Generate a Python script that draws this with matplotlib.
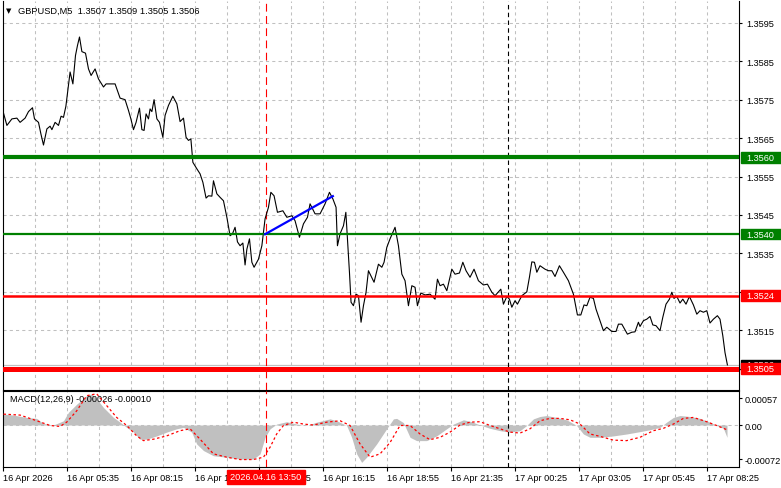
import matplotlib
matplotlib.use('Agg')
import matplotlib.pyplot as plt
from matplotlib.patches import Rectangle
from matplotlib.transforms import blended_transform_factory

plt.rcParams['font.family'] = ['Liberation Sans', 'DejaVu Sans']
plt.rcParams['font.size'] = 6.6

# GBPUSD M5 closes (x = bar number from 16 Apr 02:55)
price_bar = [0.0, 1.9, 4.4, 6.9, 8.5, 11.0, 12.7, 14.7, 15.7, 17.7, 18.9, 20.2, 21.9, 23.5, 24.4, 26.0,
             27.7, 29.0, 30.2, 31.4, 32.7, 33.5, 34.9, 36.2, 37.2, 38.2, 39.4, 41.2, 42.7, 44.0, 46.0,
             47.7, 50.2, 51.5, 56.0, 58.5, 61.0, 62.7, 63.9, 65.2, 66.5, 68.2, 69.4, 70.5, 71.5, 72.7,
             73.5, 74.4, 75.5, 76.9, 78.2, 79.9, 81.0, 82.7, 84.9, 86.9, 88.5, 90.2, 91.5, 92.7, 93.9,
             94.9, 96.9, 98.5, 99.9, 101.5, 102.7, 104.4, 105.2, 106.9, 108.5, 110.2, 111.9, 113.5,
             114.7, 116.0, 117.2, 118.5, 119.9, 121.0, 121.9, 123.2, 124.4, 125.5, 127.7, 129.4, 131.0,
             132.7, 133.9, 135.5, 137.2, 139.9, 141.9, 144.4, 146.0, 148.2, 150.2, 152.2, 153.5, 156.0,
             158.5, 161.0, 163.2, 164.9, 166.5, 167.2, 168.5, 170.2, 171.4, 172.2, 173.2, 174.0, 175.2,
             176.5, 177.7, 179.0, 180.2, 181.5, 182.7, 183.9, 185.5, 187.7, 189.4, 190.5, 191.9, 193.5,
             196.0, 197.7, 199.4, 201.0, 202.7, 204.4, 206.0, 207.2, 208.9, 211.0, 213.5, 216.0, 217.2,
             218.5, 220.2, 221.9, 224.4, 226.0, 228.2, 229.9, 231.5, 233.5, 235.5, 237.7, 240.2, 242.2,
             244.4, 246.0, 248.9, 250.2, 251.9, 253.2, 254.4, 256.0, 257.2, 259.4, 261.9, 263.2, 264.4,
             265.7, 266.9, 268.5, 271.0, 272.7, 274.4, 276.0, 278.2, 280.2, 282.7, 285.2, 287.2, 288.9,
             290.5, 291.9, 293.5, 295.2, 296.5, 298.2, 300.2, 301.9, 304.4, 306.5, 307.7, 309.4, 311.0,
             312.2, 314.4, 316.0, 317.7, 318.5, 320.2, 321.9, 323.5, 324.9, 326.5, 328.5, 329.9, 331.5,
             333.2, 334.4, 335.5, 336.9, 338.5, 339.9, 341.5, 343.2, 345.2, 346.9, 348.5, 350.2, 351.9,
             353.5, 355.2, 357.2, 358.5, 359.9, 361.0, 362.2]
price = [1.35719, 1.35683, 1.35700, 1.35702, 1.35691, 1.35702, 1.35719, 1.35729, 1.35700, 1.35691,
         1.35661, 1.35632, 1.35674, 1.35681, 1.35672, 1.35691, 1.35683, 1.35707, 1.35704, 1.35733,
         1.35787, 1.35822, 1.35791, 1.35865, 1.35891, 1.35913, 1.35875, 1.35871, 1.35830, 1.35813,
         1.35830, 1.35804, 1.35783, 1.35791, 1.35791, 1.35754, 1.35750, 1.35722, 1.35700, 1.35672,
         1.35691, 1.35728, 1.35672, 1.35670, 1.35713, 1.35700, 1.35726, 1.35719, 1.35750, 1.35700,
         1.35691, 1.35652, 1.35709, 1.35735, 1.35759, 1.35739, 1.35693, 1.35702, 1.35652, 1.35644,
         1.35648, 1.35587, 1.35570, 1.35557, 1.35535, 1.35494, 1.35500, 1.35499, 1.35539, 1.35505,
         1.35496, 1.35487, 1.35444, 1.35396, 1.35401, 1.35418, 1.35380, 1.35370, 1.35377, 1.35320,
         1.35361, 1.35388, 1.35327,
         1.35314, 1.35335, 1.35370, 1.35440, 1.35470, 1.35509, 1.35500, 1.35457, 1.35461, 1.35444,
         1.35448, 1.35435, 1.35392, 1.35427, 1.35444, 1.35479, 1.35453, 1.35453, 1.35479, 1.35509,
         1.35492, 1.35470, 1.35370, 1.35401, 1.35422, 1.35457, 1.35388, 1.35301, 1.35223, 1.35214,
         1.35244, 1.35240, 1.35171, 1.35214, 1.35249, 1.35305, 1.35292, 1.35275, 1.35322, 1.35314,
         1.35327, 1.35366, 1.35388, 1.35418, 1.35370, 1.35296, 1.35279, 1.35214, 1.35266, 1.35262,
         1.35214, 1.35247, 1.35242, 1.35244, 1.35231, 1.35283, 1.35266, 1.35270, 1.35253, 1.35309,
         1.35296, 1.35299, 1.35327, 1.35305, 1.35288, 1.35309, 1.35279, 1.35268, 1.35270, 1.35249,
         1.35240,
         1.35257, 1.35218, 1.35238, 1.35231, 1.35210, 1.35227, 1.35218, 1.35240, 1.35250, 1.35288,
         1.35328, 1.35327, 1.35301, 1.35318, 1.35309, 1.35305, 1.35305, 1.35290, 1.35318, 1.35301,
         1.35279, 1.35244, 1.35190, 1.35190, 1.35216, 1.35214, 1.35236, 1.35233, 1.35205, 1.35179,
         1.35149, 1.35158, 1.35147, 1.35147, 1.35166, 1.35166, 1.35151, 1.35140, 1.35145, 1.35146,
         1.35171, 1.35160, 1.35175, 1.35179, 1.35186, 1.35164, 1.35162, 1.35149, 1.35184, 1.35218,
         1.35231, 1.35249, 1.35233, 1.35238, 1.35221, 1.35231, 1.35218, 1.35238, 1.35216, 1.35192,
         1.35201, 1.35197, 1.35201, 1.35169, 1.35179, 1.35188, 1.35179, 1.35136, 1.35092, 1.35060]

# MACD(12,26,9) histogram and signal
hist_bar = [0.2, 5.2, 11.8, 16.8, 20.2, 25.2, 30.2, 32.7, 36.8, 41.8, 44.3, 46.8, 50.2, 55.2, 58.5,
            61.8, 65.2, 68.5, 71.8, 76.8, 81.8, 86.8, 90.2, 94.3, 96.8, 100.2, 105.2, 111.8, 118.5,
            125.2, 128.5, 131.0, 133.5, 136.8, 141.8, 146.8, 151.8, 156.8, 163.5, 166.8, 171.8, 174.3,
            176.8, 179.3, 181.8, 186.8, 191.8, 195.2, 196.8, 200.2, 203.5, 206.8, 211.8, 216.8, 221.8,
            225.2, 230.2, 234.3, 238.5, 243.5, 248.5, 253.5, 258.5, 261.8, 265.2, 268.5, 271.8, 276.8,
            281.8, 286.8, 290.2, 293.5, 298.5, 305.2, 311.8, 318.5, 323.5, 328.5, 331.8, 335.2, 338.5,
            343.5, 348.5, 353.5, 356.8, 360.2, 362.0]
hist_val = [0.00023, 0.00021, 0.00016, 0.00014, 0.00003, 0.0, 0.00009, 0.00027, 0.00044, 0.00062,
            0.00066, 0.00055, 0.00037, 0.00016, 0.00006, -0.00005, -0.00015, -0.0003, -0.0003, -0.00023,
            -0.00015, -0.00008, -0.00005, -0.00015, -0.0004, -0.00054, -0.00065, -0.00068, -0.00072, -0.00072,
            -0.00061, -0.00026, -0.00008, 0.00002, 0.00007, 0.00002, -0.00001, 0.00006, 0.00013, 0.00009,
            -0.00001, -0.00026, -0.00061, -0.00079, -0.00068, -0.0004, -0.00008, 0.00013, 0.00014, 0.00005,
            -0.00026, -0.00033, -0.00033, -0.00023, -0.00008, 0.00002, 0.00011, 0.00007, 0.0, -0.00007,
            -0.00012, -0.00015, -0.00012, -0.00001, 0.00013, 0.00018, 0.0002, 0.00016, 0.00011, -0.00001,
            -0.00019, -0.00026, -0.00026, -0.00023, -0.00019, -0.00014, -0.0001, -0.00005, 0.00006, 0.00016,
            0.0002, 0.00018, 0.00014, 0.00006, -0.00001, -0.00007, -0.00026]
sig_bar = [0.2, 8.5, 16.8, 23.5, 28.5, 31.8, 36.8, 41.8, 46.8, 51.8, 56.8, 61.8, 66.8, 70.2, 75.2,
           81.8, 88.5, 93.5, 98.5, 105.2, 111.8, 118.5, 125.2, 130.2, 133.5, 136.8, 140.2, 145.2, 150.2,
           155.2, 161.8, 168.5, 173.5, 178.5, 183.5, 188.5, 193.5, 198.5, 203.5, 208.5, 213.5, 218.5,
           223.5, 228.5, 233.5, 238.5, 243.5, 248.5, 253.5, 258.5, 263.5, 268.5, 273.5, 278.5, 283.5,
           288.5, 293.5, 298.5, 305.2, 311.8, 318.5, 325.2, 330.2, 335.2, 340.2, 345.2, 351.8, 356.8,
           360.2, 362.0]
sig_val = [0.00023, 0.00021, 0.00009, -0.00001, -0.00003, 0.00006, 0.0003, 0.00062, 0.00066, 0.00041,
           0.00016, -0.00001, -0.00023, -0.00033, -0.0003, -0.00023, -0.00012, -0.00008, -0.0003, -0.00061,
           -0.00068, -0.00073, -0.00073, -0.00068, -0.00047, -0.00019, -0.00001, 0.00006, 0.00002, 0.0,
           0.00006, 0.00009, -0.00001, -0.0004, -0.00068, -0.00061, -0.00037, -0.00001, -0.00001, -0.00019,
           -0.00031, -0.00026, -0.00015, 0.0, 0.00006, 0.00007, -0.00001, -0.00008, -0.00015, -0.00017,
           -0.00008, 0.00009, 0.00014, 0.00014, 0.00011, 0.00002, -0.00019, -0.00024, -0.00032, -0.00033,
           -0.00026, -0.00012, -0.00007, 0.00002, 0.00014, 0.00016, 0.00007, -0.00001, -0.00007, -0.0001]

# levels drawn on the chart
green_levels = [1.3560, 1.3540]
red_levels = [1.3524, 1.3505]
bid = 1.3506
trend_bar = [131.0, 164.9]
trend_price = [1.3540, 1.35499]
marker_bar = 131.3
separator_bar = 252.5

price_ticks = [1.3505, 1.3515, 1.3525, 1.3535, 1.3545, 1.3555, 1.3565, 1.3575, 1.3585, 1.3595]
hidden_ticks = [1.3505, 1.3525]  # sit under the level tags
macd_ticks = [0.00057, 0.0, -0.00072]
macd_tick_labels = ['0.00057', '0.00', '-0.00072']
time_labels = ['16 Apr 2026', '16 Apr 05:35', '16 Apr 08:15', '16 Apr 10:55', '16 Apr 13:35',
               '16 Apr 16:15', '16 Apr 18:55', '16 Apr 21:35', '17 Apr 00:25', '17 Apr 03:05',
               '17 Apr 05:45', '17 Apr 08:25']

W, H = 781, 489
fig = plt.figure(figsize=(W / 100, H / 100), dpi=100)


def box(l, t, r, b):
    return [l / W, 1 - b / H, (r - l) / W, (b - t) / H]


L, R = 2.7, 739
ax = fig.add_axes(box(L, 1.5, R, 390.5))
mx = fig.add_axes(box(L, 392, R, 467.5))
ax.spines['top'].set_visible(False)

xmax = (R - 3) / 2
grid_kw = dict(color='#c0c0c0', lw=0.75, ls=(0, (3, 3)), zorder=0)
for a in (ax, mx):
    a.set_xlim(-0.2, xmax)
    for s in a.spines.values():
        s.set_linewidth(0.8)
    for g in range(16, int(xmax), 16):
        a.axvline(g, **grid_kw)
    a.axvline(marker_bar, color='red', lw=0.8, ls=(0, (7, 4)), zorder=3)
    a.axvline(separator_bar, color='black', lw=0.8, ls=(0, (4, 3)), zorder=3)

# main price panel
ax.set_ylim(1.34996, 1.36008)
for p in price_ticks:
    ax.axhline(p, **grid_kw)
ax.plot(price_bar, price, color='black', lw=0.8, zorder=4)
ax.axhline(bid, color='#c0c0c0', lw=0.9, zorder=2)
ax.axhline(green_levels[0], color='#008000', lw=3.0, zorder=5)
ax.axhline(green_levels[1], color='#008000', lw=1.6, zorder=5)
ax.axhline(red_levels[0], color='#ff0000', lw=1.8, zorder=5)
ax.axhline(red_levels[1], color='#ff0000', lw=3.6, zorder=5)
ax.plot(trend_bar, trend_price, color='#0000ff', lw=1.6, zorder=6)

ax.yaxis.tick_right()
ax.set_yticks(price_ticks)
ax.set_yticklabels(['' if p in hidden_ticks else f'{p:.4f}' for p in price_ticks])
ax.tick_params(axis='y', direction='out', length=2.5, pad=2.5, labelsize=6.6)
ax.tick_params(axis='x', bottom=False, labelbottom=False)

tr = blended_transform_factory(ax.transAxes, ax.transData)
aw = R - L
tag_h = 10.5 / 38400


def tag(value, color, z):
    ax.add_patch(Rectangle(((741 - L) / aw, value - tag_h / 2), 0.06, tag_h, transform=tr,
                           color=color, clip_on=False, zorder=z))
    ax.text((746 - L) / aw, value, f'{value:.4f}', transform=tr, color='white',
            va='center', ha='left', fontsize=6.6, clip_on=False, zorder=z + 1)


tag(bid, 'black', 8)
tag(green_levels[0], '#008000', 10)
tag(green_levels[1], '#008000', 10)
tag(red_levels[0], '#ff0000', 10)
tag(red_levels[1], '#ff0000', 10)

# MACD panel
mx.set_ylim(-0.000877, 0.000719)
mx.axhline(0, **grid_kw)
mx.fill_between(hist_bar, hist_val, 0, color='#c0c0c0', lw=0, zorder=1)
mx.plot(sig_bar, sig_val, color='#ff0000', lw=0.9, ls=(0, (2, 2)), zorder=4)
mx.yaxis.tick_right()
mx.set_yticks(macd_ticks)
mx.set_yticklabels(macd_tick_labels)
mx.tick_params(axis='y', direction='out', length=2.5, pad=1.5, labelsize=6.6)
mx.set_xticks([32 * i for i in range(len(time_labels))])
mx.set_xticklabels(time_labels)
mx.tick_params(axis='x', direction='out', length=3, pad=1.5, labelsize=6.6)
for lbl in mx.get_xticklabels():
    lbl.set_ha('left')
mx.text(7 / aw, 0.90, 'MACD(12,26,9) -0.00026 -0.00010', transform=mx.transAxes,
        va='center', ha='left', fontsize=6.6)

# header and time marker label
fig.text(6.2 / W, 1 - 11 / H, '\u25bc', fontsize=5, family='DejaVu Sans', va='center')
fig.text(18 / W, 1 - 11 / H, 'GBPUSD,M5  1.3507 1.3509 1.3505 1.3506', fontsize=6.7, va='center')
fig.patches.append(Rectangle((227 / W, 1 - 485 / H), 78 / W, 14 / H, transform=fig.transFigure,
                             color='#ff0000', zorder=5))
fig.text(266 / W, 1 - 478 / H, '2026.04.16 13:50', color='white', fontsize=6.6,
         ha='center', va='center', zorder=6)

fig.savefig('out.png', dpi=100)
